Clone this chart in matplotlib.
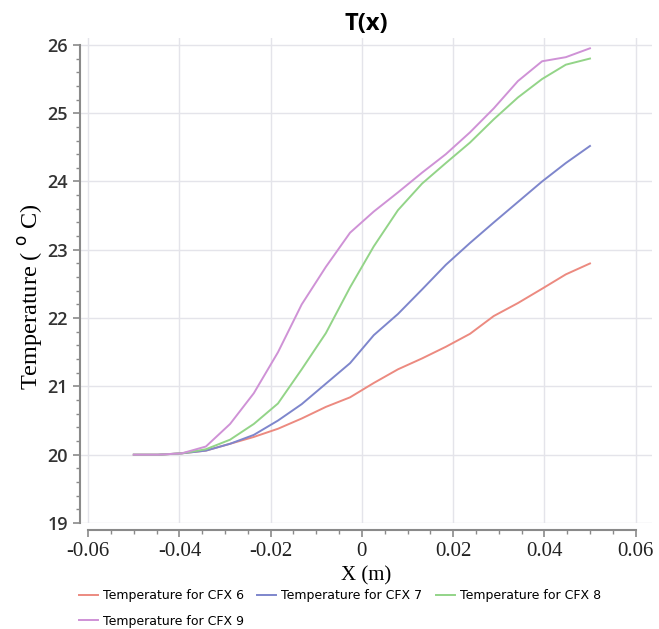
import matplotlib
matplotlib.use("Agg")
import matplotlib.pyplot as plt
from matplotlib.ticker import MultipleLocator, FixedLocator

# posiciones a lo largo del eje (m)
x_pos = [-0.05, -0.0447, -0.0395, -0.0342, -0.0289, -0.0237, -0.0184, -0.0132, -0.0079, -0.0026,
         0.0026, 0.0079, 0.0132, 0.0184, 0.0237, 0.0289, 0.0342, 0.0395, 0.0447, 0.05]

# temperatura (C) para cada caso
t_cfx6 = [20.0, 20.0, 20.02, 20.06, 20.16, 20.26, 20.38, 20.53, 20.70, 20.84,
          21.05, 21.25, 21.41, 21.58, 21.77, 22.03, 22.22, 22.43, 22.64, 22.80]
t_cfx7 = [20.0, 20.0, 20.02, 20.06, 20.16, 20.29, 20.50, 20.74, 21.04, 21.34,
          21.75, 22.06, 22.42, 22.78, 23.10, 23.40, 23.70, 24.00, 24.27, 24.52]
t_cfx8 = [20.0, 20.0, 20.02, 20.08, 20.22, 20.45, 20.75, 21.25, 21.78, 22.45,
          23.05, 23.58, 23.97, 24.27, 24.57, 24.91, 25.23, 25.50, 25.71, 25.80]
t_cfx9 = [20.0, 20.0, 20.02, 20.12, 20.45, 20.90, 21.50, 22.20, 22.75, 23.25,
          23.56, 23.84, 24.13, 24.40, 24.72, 25.07, 25.47, 25.76, 25.82, 25.95]

nombres = ["Temperature for CFX 6", "Temperature for CFX 7",
           "Temperature for CFX 8", "Temperature for CFX 9"]
colores = ["#ec8a80", "#7e86cc", "#93d488", "#cf92d6"]

fig = plt.figure(figsize=(6.59, 6.29), dpi=100)
ax = fig.add_axes([0.1214, 0.1685, 0.868, 0.771])

lineas = []
for t, nom, col in zip([t_cfx6, t_cfx7, t_cfx8, t_cfx9], nombres, colores):
    l, = ax.plot(x_pos, t, color=col, lw=1.4, label=nom)
    lineas.append(l)

ax.set_xlim(-0.0618, 0.0636)
ax.set_ylim(19, 26.1)

ax.xaxis.set_major_locator(FixedLocator([-0.06, -0.04, -0.02, 0, 0.02, 0.04, 0.06]))
ax.xaxis.set_minor_locator(MultipleLocator(0.005))
ax.yaxis.set_major_locator(MultipleLocator(1))
ax.yaxis.set_minor_locator(MultipleLocator(0.2))

ax.grid(True, which="major", color="#e4e4ea", lw=1)

for s in ["top", "right"]:
    ax.spines[s].set_visible(False)
ax.spines["left"].set_bounds(19, 26)
ax.spines["bottom"].set_bounds(-0.06, 0.06)
ax.spines["bottom"].set_position(("outward", 5))
for s in ["left", "bottom"]:
    ax.spines[s].set_color("#8a8a8a")
    ax.spines[s].set_linewidth(1.5)

ax.tick_params(which="major", direction="out", length=5, width=1.2, color="#8a8a8a")
ax.tick_params(which="minor", direction="out", length=3, width=1.0, color="#8a8a8a")

ax.set_xticklabels(["-0.06", "-0.04", "-0.02", "0", "0.02", "0.04", "0.06"],
                   family="Liberation Serif", fontsize=15, color="#222222")
ax.set_yticks([19, 20, 21, 22, 23, 24, 25, 26])
ax.set_yticklabels(["19", "20", "21", "22", "23", "24", "25", "26"],
                   family="Open Sans", fontweight="semibold", fontsize=13, color="#333333")

ax.set_title("T(x)", family="Open Sans", fontweight="bold", fontsize=17, pad=6)
ax.set_xlabel("X (m)", family="Liberation Serif", fontsize=15, labelpad=4)
fig.text(0.046, 0.529, "Temperature ( $^{\\rm o}$ C)", rotation=90, family="Liberation Serif",
         fontsize=17.5, ha="center", va="center")

# orden para que la leyenda se llene por filas
orden = [0, 3, 1, 2]
fig.legend([lineas[i] for i in orden], [nombres[i] for i in orden], ncol=3,
           loc="upper left", bbox_to_anchor=(0.116, 0.067), frameon=False,
           prop={"family": "DejaVu Sans", "size": 9}, handlelength=1.5,
           handletextpad=0.4, columnspacing=1.1, labelspacing=1.0,
           borderaxespad=0.0, borderpad=0.2)

plt.savefig("out.png", dpi=100)
